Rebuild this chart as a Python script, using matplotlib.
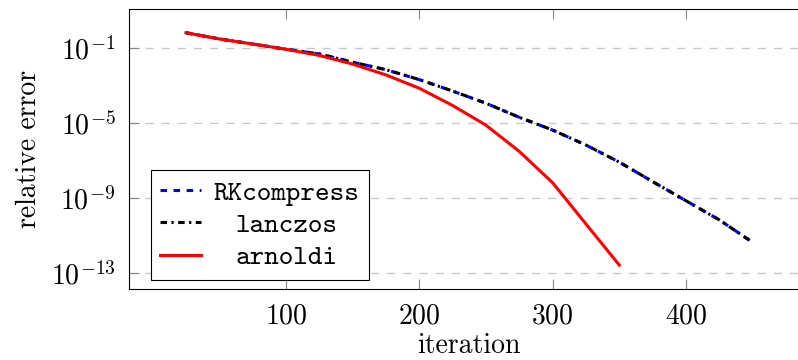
import numpy as np
import matplotlib
matplotlib.use('Agg')
import matplotlib.pyplot as plt
import matplotlib.transforms as mtransforms
from matplotlib.ticker import FixedLocator, LogFormatterMathtext, NullLocator

# iterations
it_long = [25, 50, 75, 100, 125, 150, 175, 200, 225, 250, 275, 300,
           325, 350, 375, 400, 425, 450]
it_short = [25, 50, 75, 100, 125, 150, 175, 200, 225, 250, 275, 300, 325, 350]

# log10 of relative error
rk_log = [-0.17, -0.50, -0.77, -1.05, -1.30, -1.74, -2.14, -2.67, -3.28,
          -3.93, -4.68, -5.36, -6.16, -7.07, -8.11, -9.13, -10.15, -11.35]
lanczos_log = [-0.17, -0.50, -0.77, -1.05, -1.30, -1.74, -2.14, -2.67, -3.28,
               -3.93, -4.68, -5.36, -6.16, -7.07, -8.11, -9.13, -10.15, -11.35]
arnoldi_log = [-0.17, -0.50, -0.77, -1.05, -1.38, -1.84, -2.42, -3.13, -4.05,
               -5.1, -6.5, -8.17, -10.37, -12.56]

labels = ['RKcompress', 'lanczos', 'arnoldi']
yticks = [1e-1, 1e-5, 1e-9, 1e-13]
xticks = [100, 200, 300, 400]

plt.rcParams['font.family'] = 'cmr10'
plt.rcParams['mathtext.fontset'] = 'cm'
plt.rcParams['axes.formatter.use_mathtext'] = True
plt.rcParams['lines.scale_dashes'] = False
plt.rcParams['font.size'] = 20

fig = plt.figure(figsize=(7.98, 3.6), dpi=100)
ax = fig.add_axes([129.3/798, 1 - 289.3/360, 680/798, 280.3/360])

lw = 2.2
ax.plot(it_long, 10**np.array(rk_log), color='blue', lw=lw,
        linestyle=(0, (4.7, 4.7)), label=labels[0])
ax.plot(it_long, 10**np.array(lanczos_log), color='black', lw=lw,
        linestyle=(0, (4.7, 3.2, 1.6, 3.2)), label=labels[1])
ax.plot(it_short, 10**np.array(arnoldi_log), color='red', lw=lw,
        label=labels[2])

ax.set_yscale('log')
ax.set_xlim(-17.5, 492.5)
ax.set_ylim(10**-13.853, 10**1.096)
ax.yaxis.set_major_locator(FixedLocator(yticks))
ax.yaxis.set_major_formatter(LogFormatterMathtext())
ax.yaxis.set_minor_locator(NullLocator())
ax.set_xticks(xticks)
ax.grid(axis='y', color='#c8c8c8', lw=1.0, linestyle=(0, (5.8, 5.8)))
ax.tick_params(direction='in', length=7.5, width=0.8, color='#888888',
               top=True, labelsize=20, pad=10)
for s in ax.spines.values():
    s.set_linewidth(0.8)

# a bit higher than the original so the descender isn't clipped
ax.set_xlabel('iteration', fontsize=20, labelpad=2.5)
ax.set_ylabel('relative error', fontsize=20, labelpad=6)

leg = ax.legend(loc='lower left', bbox_to_anchor=(21.4/680, 9.3/280.3),
                borderaxespad=0, fancybox=False, framealpha=1,
                edgecolor='black', prop={'family': 'cmtt10', 'size': 20},
                handlelength=1.45, handletextpad=0.45, borderpad=0.35,
                labelspacing=0.25)
leg.get_frame().set_linewidth(0.8)
# centre the shorter labels like pgfplots does
shift = mtransforms.ScaledTranslation(1.5*0.525*20/72, 0, fig.dpi_scale_trans)
for t in leg.get_texts()[1:]:
    t.set_transform(t.get_transform() + shift)

fig.savefig('out.png', dpi=100)
